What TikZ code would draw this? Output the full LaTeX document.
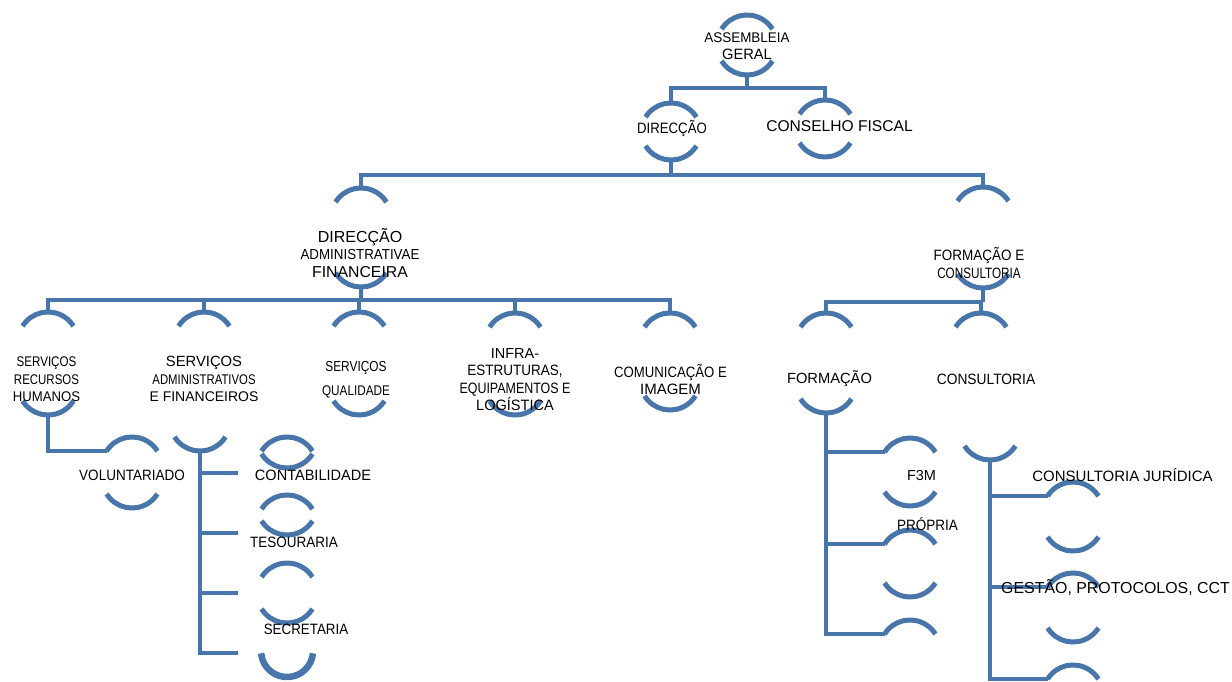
\documentclass[tikz,border=0pt]{standalone}
\usepackage{fontspec}
\setmainfont{Liberation Sans}
\definecolor{orgblue}{RGB}{72,117,170}
% size, with an optional horizontal squeeze
\newcommand{\orgsize}[2][1]{\fontsize{#2}{17.5}\selectfont\addfontfeature{FakeStretch=#1}}

\begin{document}
\begin{tikzpicture}[x=1pt, y=1pt,
		every node/.style = {align=center, inner sep=0pt, text=black, font=\orgsize{14}},
		link/.style = {draw=orgblue, line width=4.5pt},
		bow/.style = {draw=orgblue, line width=5pt}]
	\path[fill=white] (0,0) rectangle (1232,-678);
	% upper arcs
	\foreach \n/\x/\y in {ag/747/15, dir/671/103, cf/825/100, daf/361/188, fc/983/187,
			srh/48/312, saf/204/312, sq/359/312, inf/515/313, com/670/313, form/826/313, cons/981/313,
			vol/132/437, saf1/287/437, saf2/287/495, saf3/287/563,
			frm1/910/438, frm2/910/530, frm3/910/620,
			cns1/1073/482, cns2/1073/573, cns3/1073/665}{
		\coordinate (\n-in) at (\x,-\y);
		\draw[bow] (\n-in) ++(-25.44,-14.1) coordinate (\n-l) arc (148:32:30);
	}
	% lower arcs
	\foreach \n/\x/\y in {ag/747/75, dir/671/160, cf/825/157, daf/361/287, fc/983/288,
			srh/48/415, saf/200/451, sq/359/415, inf/515/415, com/670/410, form/826/413, cons/990/460,
			vol/132/508, saf1/287/468, saf2/287/535, saf3/287/623,
			frm1/910/506, frm2/910/597, cns1/1073/551, cns2/1073/642}{
		\coordinate (\n-out) at (\x,-\y);
		\draw[bow] (\n-out) ++(-25.44,14.1) arc (212:328:30);
	}
	\coordinate (saf4-out) at (287,-677);
	\draw[bow, line width=6.5pt] (saf4-out) ++(-25.9,23.7) arc (185:355:26);

	% connectors
	\draw[link] (ag-out) -- ++(0,-13) coordinate (ag-bus) -| (dir-in);
	\draw[link] (ag-bus) -| (cf-in);
	\draw[link] (dir-out) -- ++(0,-15) coordinate (dir-bus) -| (daf-in);
	\draw[link] (dir-bus) -| (fc-in);
	\draw[link] (daf-out) -- ++(0,-13) coordinate (daf-bus);
	\foreach \c in {srh,saf,sq,inf,com}
		\draw[link] (daf-bus) -| (\c-in);
	\draw[link] (fc-out) -- ++(0,-14) coordinate (fc-bus);
	\foreach \c in {form,cons}
		\draw[link] (fc-bus) -| (\c-in);
	\draw[link] (srh-out) |- (vol-l);
	\foreach \c/\y in {saf-b1/473, saf-b2/533, saf-b3/593, saf-b4/653}{
		\coordinate (\c) at (238,-\y);
		\draw[link] (saf-out) |- (\c);
	}
	\foreach \c in {frm1,frm2,frm3}
		\draw[link] (form-out) |- (\c-l);
	\foreach \c in {cns1,cns2,cns3}
		\draw[link] (cons-out) |- (\c-l);

	% texts
	\node (ag) at (747,-46) {\orgsize[0.96]{14}ASSEMBLEIA\\\orgsize[0.98]{15}GERAL};
	\node (dir) at (672,-129) {\orgsize[0.88]{15}DIRECÇÃO};
	\node (cf) at (839.5,-126) {\orgsize{15.6}CONSELHO FISCAL};
	\node (daf) at (360,-253) {\orgsize{16}DIRECÇÃO\\\orgsize[0.92]{14.5}ADMINISTRATIVAE\\\orgsize{15.8}FINANCEIRA};
	\node (fc) at (979,-263) {\orgsize[0.9]{15}FORMAÇÃO E\\\orgsize[0.78]{15}CONSULTORIA};
	\node (srh) at (46.5,-379.5) {\orgsize[0.83]{14}SERVIÇOS\\\orgsize[0.82]{14}RECURSOS\\\orgsize[0.94]{14}HUMANOS};
	\node (saf) at (204,-379) {\orgsize{14.8}SERVIÇOS\\\orgsize[0.81]{14}ADMINISTRATIVOS\\\orgsize{14}E FINANCEIROS};
	\node (sq) at (356,-379.5) {\orgsize[0.82]{14.5}SERVIÇOS\\[6.5pt]\orgsize[0.84]{14}QUALIDADE};
	\node (inf) at (515,-379.5) {\orgsize{14.5}INFRA-\\\orgsize[0.9]{15}ESTRUTURAS,\\\orgsize[0.83]{15}EQUIPAMENTOS E\\\orgsize[0.97]{15}LOGÍSTICA};
	\node (com) at (670.5,-379.5) {\orgsize[0.88]{15}COMUNICAÇÃO E\\\orgsize{15}IMAGEM};
	\node (form) at (829.5,-379) {\orgsize{14.7}FORMAÇÃO};
	\node (cons) at (986,-379) {\orgsize[0.92]{15}CONSULTORIA};
	\node (vol) at (132,-475) {\orgsize[0.9]{15}VOLUNTARIADO};
	\node (cont) at (313,-475) {\orgsize[0.97]{15}CONTABILIDADE};
	\node (tes) at (294,-542) {\orgsize[0.9]{15}TESOURARIA};
	\node (sec) at (306,-629) {\orgsize[0.89]{15}SECRETARIA};
	\node (f3m) at (921.5,-476) {\orgsize{14.5}F3M};
	\node (prop) at (927.5,-524) {\orgsize[0.9]{15}PRÓPRIA};
	\node (jur) at (1122.5,-475) {\orgsize{15}CONSULTORIA JURÍDICA};
	\node (ges) at (1115.5,-588) {\orgsize{15.9}GESTÃO, PROTOCOLOS, CCT};
\end{tikzpicture}
\end{document}
